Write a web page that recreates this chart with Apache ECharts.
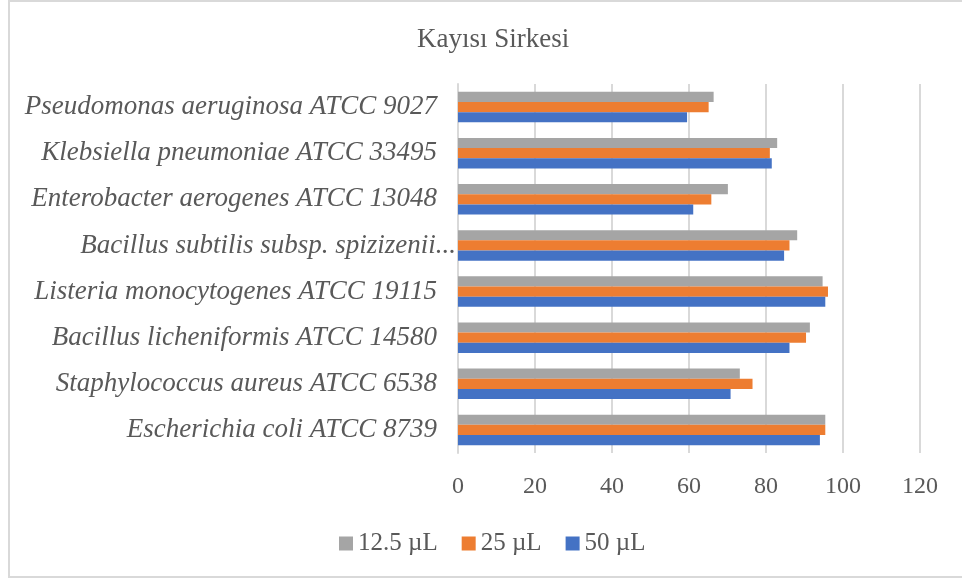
<!DOCTYPE html>
<html><head><meta charset="utf-8">
<script src="https://cdn.jsdelivr.net/npm/echarts@6/dist/echarts.min.js"></script>
<style>html,body{margin:0;padding:0;background:#fff}#c{width:962px;height:580px}</style>
</head><body><div id="c"></div>
<script>
const categories = [
  'Escherichia coli ATCC 8739',
  'Staphylococcus aureus ATCC 6538',
  'Bacillus licheniformis ATCC 14580',
  'Listeria monocytogenes ATCC 19115',
  'Bacillus subtilis subsp. spizizenii...',
  'Enterobacter aerogenes ATCC 13048',
  'Klebsiella pneumoniae ATCC 33495',
  'Pseudomonas aeruginosa ATCC 9027'
];
const seriesNames = ['12.5 µL', '25 µL', '50 µL'];
const v125 = [95.4, 73.2, 91.4, 94.7, 88.1, 70.1, 82.9, 66.4];
const v25  = [95.4, 76.5, 90.4, 96.1, 86.1, 65.8, 81.0, 65.1];
const v50  = [94.0, 70.8, 86.1, 95.4, 84.7, 61.1, 81.5, 59.5];
const xTicks = [0, 20, 40, 60, 80, 100, 120];

const colors = ['#A5A5A5', '#ED7D31', '#4472C4'];
const font = "'Liberation Serif', 'Times New Roman', serif";
const txt = '#595959';

const chart = echarts.init(document.getElementById('c'), null, {renderer: 'canvas'});
chart.setOption({
  animation: false,
  graphic: [{
    type: 'rect', shape: {x: 9, y: 1, width: 980, height: 576},
    style: {fill: 'none', stroke: '#d9d9d9', lineWidth: 2}, silent: true, z: -1
  }],
  title: {
    text: 'Kayısı Sirkesi', left: 412, top: 21,
    textStyle: {fontFamily: font, fontSize: 27, fontWeight: 'normal', color: txt}
  },
  legend: {
    data: seriesNames, left: 334, top: 526, itemWidth: 14, itemHeight: 14, itemGap: 24,
    icon: 'rect',
    textStyle: {fontFamily: font, fontSize: 25, color: txt}
  },
  grid: {left: 458, right: 42, top: 84, bottom: 127, containLabel: false},
  xAxis: {
    type: 'value', min: xTicks[0], max: xTicks[xTicks.length - 1], interval: 20,
    axisLine: {show: false}, axisTick: {show: false},
    splitLine: {show: true, lineStyle: {color: '#d9d9d9', width: 2}},
    axisLabel: {fontFamily: font, fontSize: 24, color: txt, margin: 22}
  },
  yAxis: {
    type: 'category', data: categories,
    axisLine: {show: true, lineStyle: {color: '#d9d9d9', width: 2}},
    axisTick: {show: false},
    axisLabel: {
      margin: 2,
      formatter: function (v) { return v.endsWith('...') ? '{b|' + v + '}' : '{a|' + v + '}'; },
      rich: {
        a: {fontFamily: font, fontSize: 27, fontStyle: 'italic', color: txt, padding: [0, 19, 0, 0]},
        b: {fontFamily: font, fontSize: 27, fontStyle: 'italic', color: txt, padding: [0, 0, 0, 0]}
      }
    }
  },
  series: [
    {name: seriesNames[0], type: 'bar', data: v125, itemStyle: {color: colors[0]}, barGap: '0%', barCategoryGap: '34%'},
    {name: seriesNames[1], type: 'bar', data: v25, itemStyle: {color: colors[1]}, barGap: '0%', barCategoryGap: '34%'},
    {name: seriesNames[2], type: 'bar', data: v50, itemStyle: {color: colors[2]}, barGap: '0%', barCategoryGap: '34%'}
  ]
});
</script></body></html>
